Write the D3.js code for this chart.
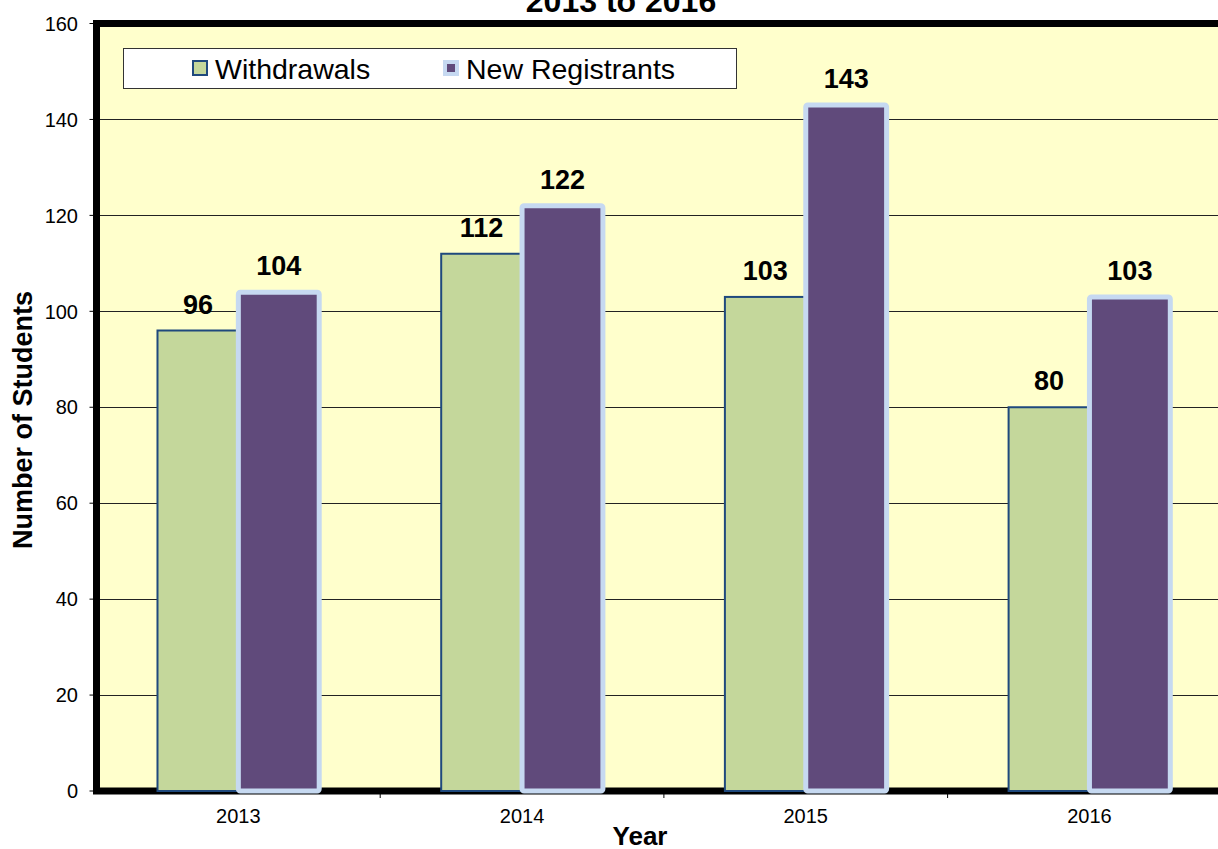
<!DOCTYPE html>
<html>
<head>
<meta charset="utf-8">
<script src="https://cdn.jsdelivr.net/npm/d3@7"></script>
<style>
  html, body { margin: 0; padding: 0; background: #fff; }
  svg { display: block; font-family: Arial, "Liberation Sans", sans-serif; }
</style>
</head>
<body>
<svg id="chart" width="1218" height="849"></svg>
<script>
var years = ['2013', '2014', '2015', '2016'];
var seriesNames = ['Withdrawals', 'New Registrants'];
var withdrawals = [96, 112, 103, 80];
var newRegistrants = [104, 122, 143, 103];
var yTicks = [0, 20, 40, 60, 80, 100, 120, 140, 160];

(function() {
    'use strict';

    var svg = d3.select('#chart'),
        plotLeft = 96.5, plotTop = 23.5, plotBottom = 791,
        step = 283.7,
        fills = ['#C4D79B', '#604A7B'],
        strokes = ['#1F497D', '#C6D9F1'],
        strokeW = [2, 5],
        values = [withdrawals, newRegistrants];

    var x = d3.scaleBand().domain(years)
        .range([plotLeft, plotLeft + step * years.length])
        .paddingInner(0.43).paddingOuter(0.215);
    var x1 = d3.scaleBand().domain(seriesNames).range([0, x.bandwidth()]);
    var y = d3.scaleLinear().domain([0, 160]).range([plotBottom, plotTop]);

    // plot area with heavy border
    svg.append('rect')
        .attr('x', plotLeft).attr('y', plotTop)
        .attr('width', 1300).attr('height', plotBottom - plotTop)
        .attr('fill', '#FFFFCC').attr('stroke', '#000').attr('stroke-width', 7);

    // gridlines
    svg.append('g').selectAll('line').data(yTicks.filter(function(d) { return d > 0 && d < 160; }))
        .enter().append('line')
        .attr('x1', plotLeft + 3.5).attr('x2', 1218)
        .attr('y1', function(d) { return Math.round(y(d)) + 0.5; })
        .attr('y2', function(d) { return Math.round(y(d)) + 0.5; })
        .attr('stroke', '#222').attr('stroke-width', 1);

    // y axis ticks + labels
    var yAxis = svg.append('g');
    yAxis.selectAll('line').data(yTicks).enter().append('line')
        .attr('x1', plotLeft - 7).attr('x2', plotLeft)
        .attr('y1', function(d) { return y(d); }).attr('y2', function(d) { return y(d); })
        .attr('stroke', '#000').attr('stroke-width', 1);
    yAxis.selectAll('text').data(yTicks).enter().append('text')
        .attr('x', 78).attr('y', function(d) { return y(d); })
        .attr('dy', '0.36em').attr('text-anchor', 'end')
        .attr('font-size', 20).attr('fill', '#000')
        .text(function(d) { return d; });

    // x axis ticks at category boundaries
    svg.append('g').selectAll('line').data(d3.range(1, years.length))
        .enter().append('line')
        .attr('x1', function(i) { return plotLeft + step * i; })
        .attr('x2', function(i) { return plotLeft + step * i; })
        .attr('y1', plotBottom).attr('y2', plotBottom + 7)
        .attr('stroke', '#000').attr('stroke-width', 1);
    svg.append('g').selectAll('text').data(years).enter().append('text')
        .attr('x', function(d) { return x(d) + x.bandwidth() / 2; })
        .attr('y', 823).attr('text-anchor', 'middle')
        .attr('font-size', 20).attr('fill', '#000')
        .text(function(d) { return d; });

    // bars
    seriesNames.forEach(function(name, s) {
        var g = svg.append('g');
        g.selectAll('rect').data(values[s]).enter().append('rect')
            .attr('x', function(d, i) { return x(years[i]) + x1(name); })
            .attr('y', function(d) { return y(d); })
            .attr('width', x1.bandwidth())
            .attr('height', function(d) { return y(0) - y(d); })
            .attr('rx', s === 1 ? 2 : 0)
            .attr('fill', fills[s]).attr('stroke', strokes[s]).attr('stroke-width', strokeW[s]);
        g.selectAll('text').data(values[s]).enter().append('text')
            .attr('x', function(d, i) { return x(years[i]) + x1(name) + x1.bandwidth() / 2; })
            .attr('y', function(d) { return y(d) - 17; })
            .attr('text-anchor', 'middle')
            .attr('font-size', 27).attr('font-weight', 'bold').attr('fill', '#000')
            .text(function(d) { return d; });
    });

    // legend
    var leg = svg.append('g');
    leg.append('rect').attr('x', 123.5).attr('y', 48.5).attr('width', 613).attr('height', 40)
        .attr('fill', '#fff').attr('stroke', '#333').attr('stroke-width', 1);
    var legX = [192, 443];
    seriesNames.forEach(function(name, s) {
        if (s === 0) {
            leg.append('rect').attr('x', legX[s] + 1).attr('y', 61).attr('width', 14).attr('height', 14)
                .attr('fill', fills[s]).attr('stroke', strokes[s]).attr('stroke-width', 2);
        } else {
            leg.append('rect').attr('x', legX[s]).attr('y', 60).attr('width', 16).attr('height', 16)
                .attr('fill', strokes[s]);
            leg.append('rect').attr('x', legX[s] + 4).attr('y', 64).attr('width', 8).attr('height', 8)
                .attr('fill', fills[s]);
        }
        leg.append('text').attr('x', legX[s] + 23).attr('y', 78.5)
            .attr('font-size', 28.5).attr('fill', '#000')
            .text(name);
    });

    // titles
    svg.append('text').attr('x', 621).attr('y', 12).attr('text-anchor', 'middle')
        .attr('font-size', 32).attr('font-weight', 'bold').text('2013 to 2016');
    svg.append('text').attr('transform', 'translate(32,420) rotate(-90)')
        .attr('text-anchor', 'middle').attr('font-size', 27).attr('font-weight', 'bold')
        .text('Number of Students');
    svg.append('text').attr('x', 640).attr('y', 845).attr('text-anchor', 'middle')
        .attr('font-size', 26).attr('font-weight', 'bold').text('Year');
}());
</script>
</body>
</html>
